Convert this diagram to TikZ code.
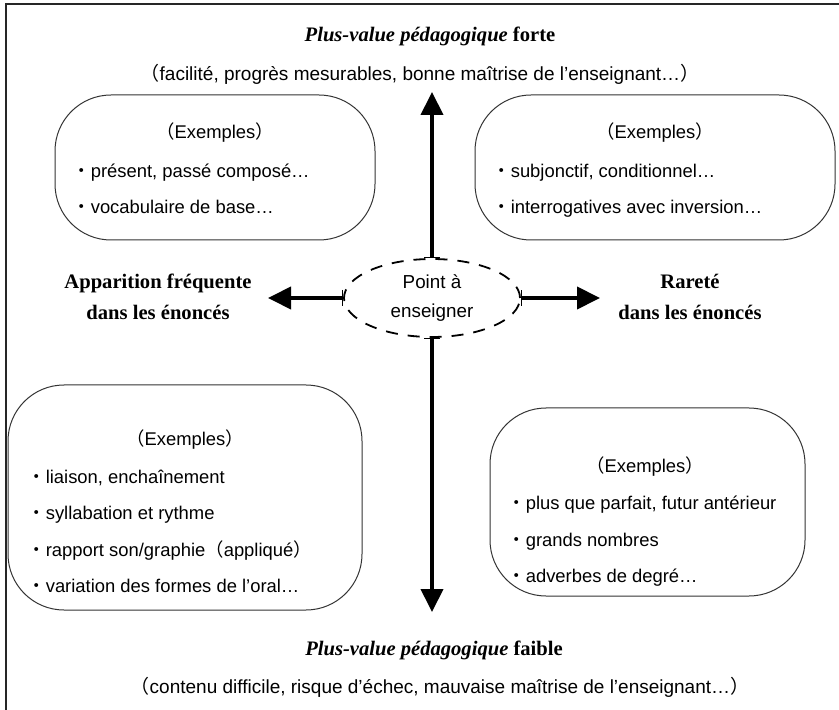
\documentclass[tikz,border=0pt]{standalone}
\usepackage{fontspec}
\setmainfont{Liberation Sans}
\newfontfamily\titrefont{Liberation Serif}
\newfontfamily\jpfont{Noto Sans CJK JP}
\usetikzlibrary{shapes.geometric,arrows.meta}
\newcommand\puce{{\jpfont ・}}
\newcommand\parg{{\jpfont （}}
\newcommand\pard{{\jpfont ）}}

\begin{document}
\begin{tikzpicture}[x=0.5pt, y=-0.5pt,
    font=\fontsize{9.2}{11}\selectfont,
    cadre/.style={draw=black!80, line width=0.5pt, rounded corners=28pt, inner sep=0pt},
    titre/.style={font=\fontsize{10.3}{15.5}\selectfont\titrefont\bfseries, align=center},
    fleche/.style={line width=2pt, {Bar[width=8pt,line width=0.7pt]}-{Triangle[length=11.5pt,width=11pt]}},
    item/.style={anchor=base west, inner sep=0pt}]
    \useasboundingbox (0,0) rectangle (839,710);
    \draw[line width=1pt, black!85] (6,710) -- (6,4) -- (839,4);

    % titres haut et bas
    \node[titre] (forte) at (430,36) {{\itshape Plus-value pédagogique} forte};
    \node[font=\fontsize{9.5}{11}\selectfont] (forteexp) at (420,74) {\parg facilité, progrès mesurables, bonne maîtrise de l’enseignant…\pard};
    \node[titre] (faible) at (434,650) {{\itshape Plus-value pédagogique} faible};
    \node[font=\fontsize{9.5}{11}\selectfont] (faibleexp) at (440,687) {\parg contenu difficile, risque d’échec, mauvaise maîtrise de l’enseignant…\pard};
    \node[titre] (freq) at (158,297) {Apparition fréquente\\dans les énoncés};
    \node[titre] (rare) at (690,297) {Rareté\\dans les énoncés};

    % cadres
    \node[cadre, minimum width=160pt, minimum height=72.5pt] (hg) at (215,167.5) {};
    \node[cadre, minimum width=180pt, minimum height=72.5pt] (hd) at (655,167.5) {};
    \node[cadre, minimum width=177pt, minimum height=112.5pt] (bg) at (185,497.5) {};
    \node[cadre, minimum width=157.5pt, minimum height=94pt] (bd) at (647.5,502) {};

    \node (hg0) at (215,133) {\parg Exemples\pard};
    \node[item] (hg1) at (72,178) {\puce présent, passé composé…};
    \node[item] (hg2) at (72,214) {\puce vocabulaire de base…};

    \node (hd0) at (655,133) {\parg Exemples\pard};
    \node[item] (hd1) at (492,178) {\puce subjonctif, conditionnel…};
    \node[item] (hd2) at (492,214) {\puce interrogatives avec inversion…};

    \node (bg0) at (185,440) {\parg Exemples\pard};
    \node[item] (bg1) at (27,483) {\puce liaison, enchaînement};
    \node[item] (bg2) at (27,519) {\puce syllabation et rythme};
    \node[item] (bg3) at (27,556) {\puce rapport son/graphie\parg appliqué\pard};
    \node[item] (bg4) at (27,592) {\puce variation des formes de l’oral…};

    \node (bd0) at (645,467) {\parg Exemples\pard};
    \node[item] (bd1) at (507,509) {\puce plus que parfait, futur antérieur};
    \node[item] (bd2) at (507,546) {\puce grands nombres};
    \node[item] (bd3) at (507,582) {\puce adverbes de degré…};

    % point central et fleches
    \node[draw, ellipse, dashed, line width=0.9pt, dash pattern=on 6pt off 5pt,
      minimum width=88pt, minimum height=39pt, inner sep=0pt, align=center,
      font=\fontsize{9.4}{14.5}\selectfont] (pt) at (432,298) {Point à\\enseigner};
    \coordinate (haut) at (432,92);
    \coordinate (bas) at (432,612);
    \coordinate (gauche) at (268,298);
    \coordinate (droite) at (600,298);
    \draw[fleche] (pt.north) -- (haut);
    \draw[fleche] (pt.south) -- (bas);
    \draw[fleche] (pt.west) -- (gauche);
    \draw[fleche] (pt.east) -- (droite);
  \end{tikzpicture}
\end{document}
